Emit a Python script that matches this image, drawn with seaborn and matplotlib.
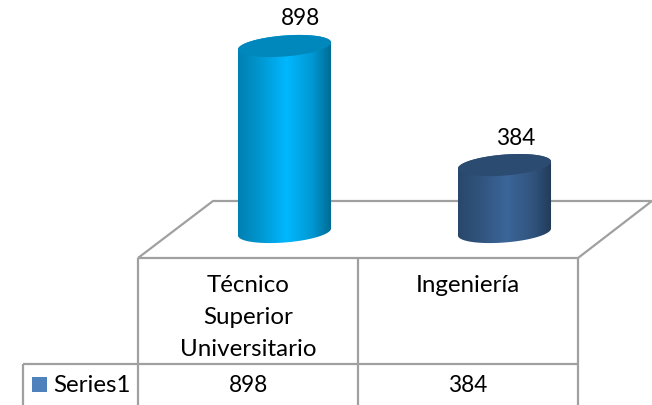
import numpy as np
import matplotlib
matplotlib.use('Agg')
import matplotlib.pyplot as plt
from matplotlib.colors import to_rgb
from matplotlib.path import Path
import seaborn as sns

categories = ['Técnico\nSuperior\nUniversitario', 'Ingeniería']
values = [898, 384]
series_name = 'Series1'
bar_colors = ['#00b8ff', '#3b6699']

sns.set_style('white')
plt.rcParams['font.family'] = ['Lato', 'DejaVu Sans']
plt.rcParams['text.color'] = 'black'

W, H = 652, 405
fig = plt.figure(figsize=(W / 100, H / 100), dpi=100)

# Floor and data table, drawn in pixel coordinates
bg = fig.add_axes([0, 0, 1, 1])
bg.set_xlim(0, W)
bg.set_ylim(H, 0)
bg.axis('off')
grid = dict(color='#a0a0a0', lw=1.6, solid_capstyle='butt')
bg.plot([138, 213, 652, 578, 138], [258, 201, 201, 258, 258], **grid)
bg.plot([138, 138], [258, 405], **grid)
bg.plot([358, 358], [258, 405], **grid)
bg.plot([578, 578], [258, 405], **grid)
bg.plot([23, 578], [364, 364], **grid)
bg.plot([23, 23], [364, 405], **grid)

fs_text = 17.4
fs_num = 16.3
line_y = 32.5
for cx, cat, val in zip([248, 468], categories, values):
    for i, part in enumerate(cat.split('\n')):
        bg.text(cx, 285 + i * line_y, part, ha='center', va='center', fontsize=fs_text)
    bg.text(cx, 386, str(val), ha='center', va='center', fontsize=fs_num)
bg.fill([32, 47, 47, 32], [377, 377, 392, 392], color='#4f81bd', lw=0)
bg.text(53, 386, series_name, ha='left', va='center', fontsize=fs_text)

# Bars: value axis starts above zero, as in the picture
base = 95
ax = fig.add_axes([174.5 / W, (H - 232) / H, 440 / W, 186 / H])
ax.patch.set_alpha(0)
sns.barplot(x=[c.split('\n')[0] for c in categories], y=values, hue=categories,
            palette=bar_colors, width=0.423, dodge=False, legend=False, ax=ax)
ax.set_xlim(-0.5, 1.5)
ax.set_ylim(base, max(values))
ax.axis('off')

px_y = (max(values) - base) / 186
shade = np.interp(np.linspace(0, 1, 64), [0, 0.2, 0.52, 0.8, 1], [0.7, 0.8, 1.0, 0.82, 0.58])

for bar, color, dx in zip([p for p in ax.patches if p.get_height() > 0], bar_colors, [16, 11]):
    x0, w, top = bar.get_x(), bar.get_width(), bar.get_height()
    bar.set_visible(False)
    cx = x0 + w / 2
    a, b, tilt = w / 2, 10.5 * px_y, 3.5 * px_y

    def ring(y, t):
        return np.column_stack([cx + a * np.cos(t), y + b * np.sin(t) + tilt * np.cos(t)])

    # cylinder side with a horizontal gradient
    side = Path(np.vstack([ring(base, np.linspace(np.pi, 2 * np.pi, 60)),
                           ring(top, np.linspace(0, np.pi, 60)),
                           ring(base, np.array([np.pi]))]))
    rgb = np.array(to_rgb(color))
    grad = (shade[:, None] * rgb)[None, :, :]
    im = ax.imshow(grad, extent=[x0, x0 + w, base - 20 * px_y, top + 20 * px_y],
                   aspect='auto', interpolation='bilinear', zorder=3)
    im.set_clip_path(side, ax.transData)
    im.set_clip_box(fig.bbox)

    # top cap
    ax.fill(*ring(top, np.linspace(0, 2 * np.pi, 120)).T, color=tuple(rgb * 0.74),
            lw=0, zorder=4, clip_on=False)

    ax.annotate(str(round(top)), (cx, top), xytext=(dx * 0.72, 14.8), textcoords='offset points',
                ha='center', va='baseline', fontsize=fs_num, annotation_clip=False)

ax.set_xlim(-0.5, 1.5)
ax.set_ylim(base, max(values))

fig.savefig('out.png', dpi=100)
